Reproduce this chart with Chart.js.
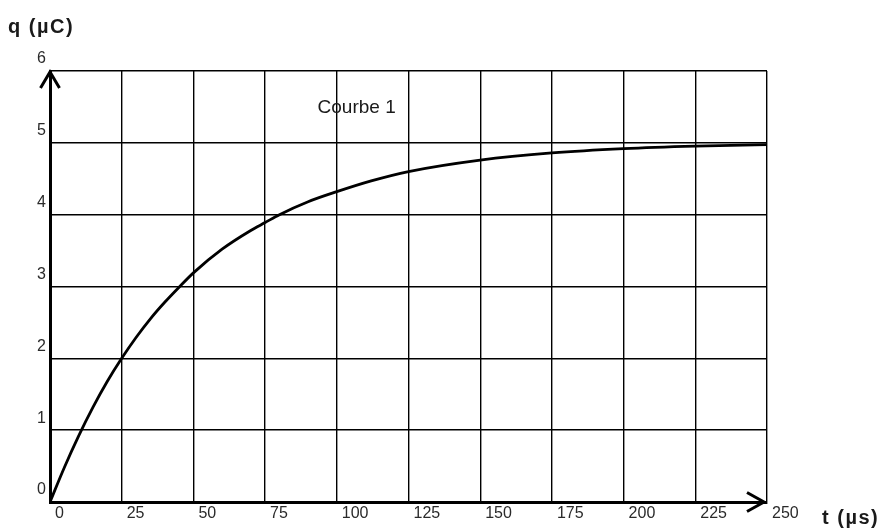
<!DOCTYPE html>
<html>
<head>
<meta charset="utf-8">
<script src="https://cdn.jsdelivr.net/npm/chart.js@4.4.1/dist/chart.umd.min.js"></script>
<style>
  html, body { margin: 0; padding: 0; background: #fff; }
  #wrap { width: 881px; height: 530px; }
</style>
</head>
<body>
<div id="wrap"><canvas id="chargeChart" width="881" height="530"></canvas></div>
<script>
const tValues = [0, 5, 10, 15, 20, 25, 30, 35, 40, 45, 50, 60, 70, 75, 80, 90, 100, 112, 125, 150, 175, 200, 225, 250];
const qValues = [0, 0.48, 0.92, 1.32, 1.68, 2.0, 2.29, 2.55, 2.78, 2.99, 3.19, 3.52, 3.78, 3.89, 4.00, 4.18, 4.32, 4.47, 4.60, 4.76, 4.86, 4.92, 4.955, 4.975];

const xTicks = [0, 25, 50, 75, 100, 125, 150, 175, 200, 225, 250];
const yTicks = [0, 1, 2, 3, 4, 5, 6];

const curveLabel = 'Courbe 1';
const yTitle = 'q (µC)';
const xTitle = 't (µs)';

const tickFont = { family: 'Liberation Sans', size: 16 };

// flèches des axes + textes libres
const decorPlugin = {
    id: 'decor',
    afterDraw(chart) {
        const { ctx, chartArea: a, scales } = chart;
        ctx.save();
        ctx.strokeStyle = '#000';
        ctx.lineWidth = 3;
        ctx.lineJoin = 'miter';
        // flèche axe q
        ctx.beginPath();
        ctx.moveTo(a.left - 9.5, a.top + 17);
        ctx.lineTo(a.left, a.top + 1);
        ctx.lineTo(a.left + 9.5, a.top + 17);
        ctx.stroke();
        // flèche axe t
        ctx.beginPath();
        ctx.moveTo(a.right - 20, a.bottom - 9.5);
        ctx.lineTo(a.right - 3, a.bottom);
        ctx.lineTo(a.right - 20, a.bottom + 9.5);
        ctx.stroke();

        ctx.fillStyle = '#1a1a1a';
        ctx.textBaseline = 'middle';
        ctx.textAlign = 'left';
        ctx.font = '19px "Liberation Sans"';
        ctx.fillText(curveLabel, scales.x.getPixelForValue(93.3), scales.y.getPixelForValue(5.49));

        ctx.font = 'bold 20px "Liberation Sans"';
        ctx.letterSpacing = '1.5px';
        ctx.fillText(yTitle, 8, 27);
        ctx.fillText(xTitle, 822, 518);
        ctx.restore();
    }
};

const ctx = document.getElementById('chargeChart').getContext('2d');
const chargeChart = new Chart(ctx, {
    type: 'line',
    data: {
        datasets: [{
            label: curveLabel,
            data: tValues.map((t, i) => ({ x: t, y: qValues[i] })),
            borderColor: '#000',
            borderWidth: 2.8,
            pointRadius: 0,
            fill: false,
            cubicInterpolationMode: 'monotone'
        }]
    },
    options: {
        responsive: false,
        animation: false,
        layout: { padding: { top: 71, right: 114, bottom: 0, left: 0 } },
        plugins: {
            legend: { display: false },
            tooltip: { enabled: false }
        },
        scales: {
            x: {
                type: 'linear',
                min: 0,
                max: 250,
                afterBuildTicks: scale => { scale.ticks = xTicks.map(v => ({ value: v })); },
                afterFit: scale => { scale.height = 28; },
                ticks: {
                    align: 'start',
                    labelOffset: 5,
                    padding: 2,
                    color: '#2a2a2a',
                    font: tickFont,
                    maxRotation: 0,
                    autoSkip: false
                },
                grid: { color: '#000', lineWidth: 1.4, drawTicks: false },
                border: { color: '#000', width: 3 }
            },
            y: {
                min: 0,
                max: 6,
                afterBuildTicks: scale => { scale.ticks = yTicks.map(v => ({ value: v })); },
                afterFit: scale => { scale.width = 50; },
                ticks: {
                    labelOffset: -12,
                    padding: 4,
                    color: '#2a2a2a',
                    font: tickFont,
                    autoSkip: false
                },
                grid: { color: '#000', lineWidth: 1.4, drawTicks: false },
                border: { color: '#000', width: 3 }
            }
        }
    },
    plugins: [decorPlugin]
});
</script>
</body>
</html>
